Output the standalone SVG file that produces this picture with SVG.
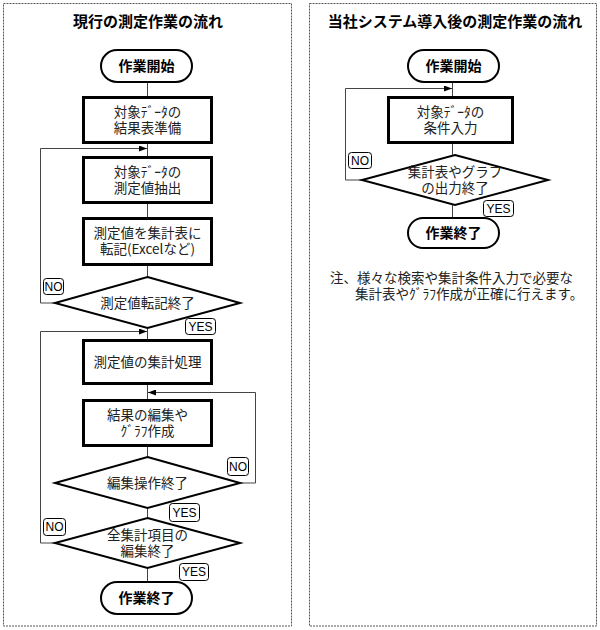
<svg xmlns="http://www.w3.org/2000/svg" width="600" height="630" viewBox="0 0 600 630">
<defs>
<style>
.panel{fill:#fff;stroke:#555;stroke-width:1;stroke-dasharray:2,1}
.title{font-family:"Noto Sans CJK JP","Noto Sans CJK SC",sans-serif;font-size:15px;font-weight:bold;fill:#000;text-anchor:middle}
.term{fill:#fff;stroke:#000;stroke-width:2}
.termt{font-family:"Noto Sans CJK JP",sans-serif;font-size:14px;font-weight:bold;fill:#000;text-anchor:middle}
.box{fill:#fff;stroke:#000;stroke-width:3}
.dia{fill:#fff;stroke:#000;stroke-width:2}
.t{font-family:"Noto Sans CJK JP",sans-serif;font-size:13.5px;fill:#222;text-anchor:middle}
.lbl{fill:#fff;stroke:#000;stroke-width:1}
.lblt{font-family:"Liberation Sans",sans-serif;font-size:12px;fill:#000;text-anchor:middle}
.con{fill:none;stroke:#444;stroke-width:1}
.note{font-family:"Noto Sans CJK JP",sans-serif;font-size:13.5px;fill:#222}
</style>
<marker id="ah" viewBox="0 0 8 6" refX="8" refY="3" markerWidth="8" markerHeight="6" markerUnits="userSpaceOnUse" orient="auto">
<path d="M0,0 L8,3 L0,6 Z" fill="#000"/>
</marker>
</defs>
<rect width="600" height="630" fill="#fff"/>
<rect class="panel" x="3.5" y="3.5" width="288" height="622.5"/>
<rect class="panel" x="309.5" y="3.5" width="287" height="622.5"/>
<text class="title" x="148" y="27">現行の測定作業の流れ</text>
<text class="title" x="455" y="27">当社システム導入後の測定作業の流れ</text>

<g id="connectors">
<path class="con" d="M147.5,82 V97 M147.5,143 V157 M147.5,203 V218 M147.5,265 V277 M147.5,327 V340 M147.5,383 V400 M147.5,446 V457 M147.5,508 V518 M147.5,568 V582"/>
<path class="con" d="M55,303 H40.5 V148.5 H147" marker-end="url(#ah)"/>
<path class="con" d="M55,543 H40.5 V331.5 H147" marker-end="url(#ah)"/>
<path class="con" d="M240,483 H255.5 V392.5 H148" marker-end="url(#ah)"/>
<path class="con" d="M452.5,82 V97 M452.5,143 V155 M452.5,205 V218"/>
<path class="con" d="M362,180 H345.5 V88.5 H452" marker-end="url(#ah)"/>
</g>

<g id="start1"><rect class="term" x="101" y="50" width="91" height="32" rx="16"/><text class="termt" x="146.5" y="71">作業開始</text></g>
<g id="box1"><rect class="box" x="83.5" y="97.5" width="128" height="45"/><text class="t" x="147.5" y="117">対象ﾃﾞｰﾀの</text><text class="t" x="147.5" y="133">結果表準備</text></g>
<g id="box2"><rect class="box" x="83.5" y="157.5" width="128" height="45"/><text class="t" x="147.5" y="177">対象ﾃﾞｰﾀの</text><text class="t" x="147.5" y="193">測定値抽出</text></g>
<g id="box3"><rect class="box" x="83.5" y="218.5" width="128" height="46"/><text class="t" x="147.5" y="238">測定値を集計表に</text><text class="t" x="147.5" y="254">転記(Excelなど)</text></g>
<g id="dec1"><polygon class="dia" points="147.5,277 240,303 147.5,328 55,303"/><text class="t" x="147.5" y="308">測定値転記終了</text></g>
<g id="no1"><rect class="lbl" x="43.5" y="278.5" width="20" height="16" rx="3"/><text class="lblt" x="53.5" y="291">NO</text></g>
<g id="yes1"><rect class="lbl" x="185.5" y="318.5" width="30" height="16" rx="3"/><text class="lblt" x="200.5" y="331">YES</text></g>
<g id="box4"><rect class="box" x="83.5" y="340.5" width="128" height="43"/><text class="t" x="147.5" y="367">測定値の集計処理</text></g>
<g id="box5"><rect class="box" x="83.5" y="400.5" width="128" height="45"/><text class="t" x="147.5" y="420">結果の編集や</text><text class="t" x="147.5" y="436">ｸﾞﾗﾌ作成</text></g>
<g id="dec2"><polygon class="dia" points="147.5,457 240,483 147.5,508 55,483"/><text class="t" x="147.5" y="488">編集操作終了</text></g>
<g id="no2"><rect class="lbl" x="227.5" y="457.5" width="21" height="18" rx="3"/><text class="lblt" x="238" y="471">NO</text></g>
<g id="yes2"><rect class="lbl" x="169.5" y="503.5" width="30" height="18" rx="3"/><text class="lblt" x="184.5" y="517">YES</text></g>
<g id="dec3"><polygon class="dia" points="147.5,518 240,543 147.5,568 55,543"/><text class="t" x="147.5" y="540">全集計項目の</text><text class="t" x="147.5" y="556">編集終了</text></g>
<g id="no3"><rect class="lbl" x="43.5" y="518.5" width="22" height="17" rx="3"/><text class="lblt" x="54.5" y="531">NO</text></g>
<g id="yes3"><rect class="lbl" x="179.5" y="563.5" width="29" height="17" rx="3"/><text class="lblt" x="194" y="576">YES</text></g>
<g id="end1"><rect class="term" x="101" y="582" width="91" height="32" rx="16"/><text class="termt" x="146.5" y="603">作業終了</text></g>

<g id="start2"><rect class="term" x="408" y="50" width="91" height="32" rx="16"/><text class="termt" x="453.5" y="71">作業開始</text></g>
<g id="box6"><rect class="box" x="388.5" y="97.5" width="124" height="45"/><text class="t" x="450.5" y="117">対象ﾃﾞｰﾀの</text><text class="t" x="450.5" y="133">条件入力</text></g>
<g id="dec4"><polygon class="dia" points="455,155 548,180 455,205 362,180"/><text class="t" x="455" y="177">集計表やグラフ</text><text class="t" x="455" y="193">の出力終了</text></g>
<g id="no4"><rect class="lbl" x="348.5" y="152.5" width="23" height="16" rx="3"/><text class="lblt" x="360" y="165">NO</text></g>
<g id="yes4"><rect class="lbl" x="483.5" y="200.5" width="30" height="16" rx="3"/><text class="lblt" x="498.5" y="213">YES</text></g>
<g id="end2"><rect class="term" x="408" y="218" width="91" height="30" rx="15"/><text class="termt" x="453.5" y="238">作業終了</text></g>
<text class="note" x="330" y="283">注、様々な検索や集計条件入力で必要な</text>
<text class="note" x="355" y="299">集計表やｸﾞﾗﾌ作成が正確に行えます。</text>
</svg>
